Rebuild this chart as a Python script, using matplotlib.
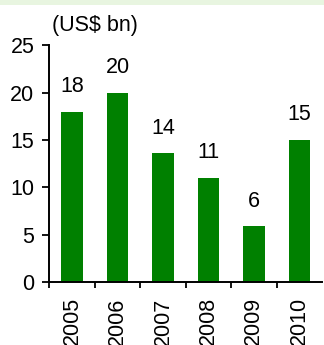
import matplotlib
matplotlib.use("Agg")
import matplotlib.pyplot as plt
from matplotlib.patches import Rectangle

years = ["2005", "2006", "2007", "2008", "2009", "2010"]
investment = [18, 20, 13.6, 11, 5.9, 15]
y_ticks = [0, 5, 10, 15, 20, 25]
unit_label = "(US$ bn)"

plt.rcParams["font.family"] = ["Liberation Sans", "DejaVu Sans"]
FS = 15.5

W, H = 324, 345
fig = plt.figure(figsize=(W / 100, H / 100), dpi=100)
fig.patch.set_facecolor("white")

# thin pale-green header strip
fig.patches.append(Rectangle((0, 1 - 4.5 / H), 1, 4.5 / H, transform=fig.transFigure,
                             facecolor="#e8f5e0", edgecolor="none", zorder=0))

ax = fig.add_axes([49.3 / W, 1 - 282 / H, (322 - 49.3) / W, (282 - 45.3) / H])

x = list(range(len(years)))
bars = ax.bar(x, investment, width=0.47, color="#008000", zorder=2)

for xi, v in zip(x, investment):
    ax.annotate(f"{v:.0f}", xy=(xi, v), xytext=(0, 18), textcoords="offset points",
                ha="center", va="center", fontsize=FS, color="black")

ax.set_xlim(-0.5, len(years) - 0.5)
ax.set_ylim(0, 25)
ax.set_yticks(y_ticks)
ax.set_yticklabels([str(t) for t in y_ticks], fontsize=FS)

# category boundaries carry the ticks, labels sit at the centres
ax.set_xticks([i - 0.5 for i in range(len(years))])
ax.set_xticklabels([])
ax.set_xticks(x, minor=True)
ax.set_xticklabels(years, minor=True, rotation=90, fontsize=FS)
ax.tick_params(axis="x", which="minor", length=0, pad=11)
ax.tick_params(axis="x", which="major", direction="out", length=4.5, width=1.3)
ax.tick_params(axis="y", direction="out", length=4.8, width=1.3, pad=6)

for side in ["top", "right"]:
    ax.spines[side].set_visible(False)
for side in ["left", "bottom"]:
    ax.spines[side].set_linewidth(1.4)
    ax.spines[side].set_color("black")

fig.text(52 / W, 1 - 25 / H, unit_label, fontsize=FS, ha="left", va="center")

fig.savefig("out.png", dpi=100)
